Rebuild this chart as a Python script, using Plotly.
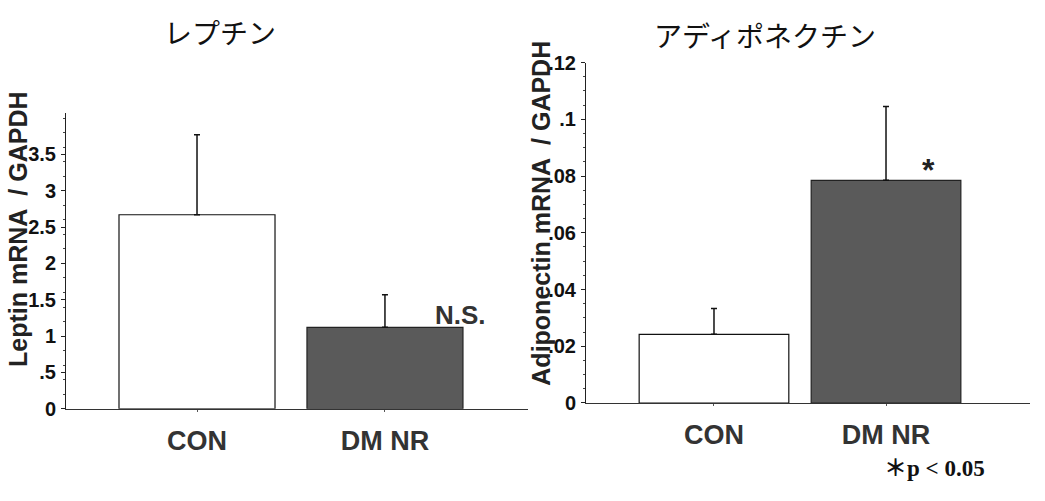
import plotly.graph_objects as go

# Group labels
groups = ["CON", "DM NR"]

# Leptin mRNA / GAPDH (mean and upper SD)
leptin_mean = [2.67, 1.12]
leptin_sd = [1.10, 0.45]

# Adiponectin mRNA / GAPDH (mean and upper SD)
adipo_mean = [0.0242, 0.0785]
adipo_sd = [0.0091, 0.0260]

# Tick labels
leptin_ticks = [0, 0.5, 1, 1.5, 2, 2.5, 3, 3.5]
leptin_ticktext = ["0", ".5", "1", "1.5", "2", "2.5", "3", "3.5"]
adipo_ticks = [0, 0.02, 0.04, 0.06, 0.08, 0.10, 0.12]
adipo_ticktext = ["0", ".02", ".04", ".06", ".08", ".1", ".12"]

W, H = 1045, 501
bar_colors = ["#ffffff", "#5a5a5a"]
line_colors = ["#111111", "#222222"]

fig = go.Figure()

fig.add_trace(go.Bar(
    x=groups, y=leptin_mean, xaxis="x", yaxis="y", width=0.83,
    marker=dict(color=bar_colors, line=dict(color=line_colors, width=1.2)),
    error_y=dict(type="data", array=leptin_sd, arrayminus=[0, 0], symmetric=False,
                 color="#111111", thickness=1.5, width=3),
    showlegend=False,
))
fig.add_trace(go.Bar(
    x=groups, y=adipo_mean, xaxis="x2", yaxis="y2", width=0.87,
    marker=dict(color=bar_colors, line=dict(color=line_colors, width=1.2)),
    error_y=dict(type="data", array=adipo_sd, arrayminus=[0, 0], symmetric=False,
                 color="#111111", thickness=1.5, width=3),
    showlegend=False,
))

tick_font = dict(family="Liberation Sans, Arial, sans-serif", size=20, color="#111111")
cat_font = dict(family="Liberation Sans, Arial, sans-serif", size=27, color="#333333")

common_x = dict(type="category", showline=True, linecolor="#333333", linewidth=1,
                ticks="outside", ticklen=2, tickcolor="#555555",
                tickfont=cat_font, showgrid=False, zeroline=False,
                ticklabelstandoff=6, fixedrange=True)
common_y = dict(showline=True, linecolor="#222222", linewidth=1,
                ticks="outside", ticklen=4, tickcolor="#222222",
                tickfont=tick_font, showgrid=False, zeroline=False,
                ticklabelstandoff=1,
                minor=dict(ticks="outside", ticklen=2, tickcolor="#444444"))

fig.update_layout(
    width=W, height=H,
    margin=dict(l=0, r=0, t=0, b=0),
    paper_bgcolor="white", plot_bgcolor="white",
    xaxis=dict(domain=[66 / W, 528 / W], range=[-0.697, 1.761], anchor="y",
               tickvals=groups, ticktext=["<b>%s</b>" % g for g in groups], **common_x),
    yaxis=dict(domain=[1 - 416 / H, 1 - 107 / H], range=[0, 4.066], anchor="x",
               tickvals=leptin_ticks, ticktext=["<b>%s</b>" % t for t in leptin_ticktext],
               **common_y),
    xaxis2=dict(domain=[586 / W, 1030 / W], range=[-0.744, 1.837], anchor="y2",
                tickvals=groups, ticktext=["<b>%s</b>" % g for g in groups], **common_x),
    yaxis2=dict(domain=[1 - 410 / H, 1 - 54 / H], range=[0, 0.12], anchor="x2",
                tickvals=adipo_ticks, ticktext=["<b>%s</b>" % t for t in adipo_ticktext],
                **common_y),
)

jp_font = dict(family="Noto Sans CJK JP", size=28, color="#111111")
title_font = dict(family="Liberation Sans, Arial, sans-serif", size=25, color="#222222")

annotations = [
    dict(text="レプチン", x=220 / W, y=1 - 22 / H, font=jp_font),
    dict(text="アディポネクチン", x=765 / W, y=1 - 25 / H, font=jp_font),
    dict(text="<b>Leptin mRNA  / GAPDH</b>", x=18 / W, y=1 - 229 / H,
         textangle=-90, font=title_font),
    dict(text="<b>Adiponectin mRNA  / GAPDH</b>", x=541 / W, y=1 - 212 / H,
         textangle=-90, font=title_font),
    dict(text="<b>N.S.</b>", x=460 / W, y=1 - 318 / H,
         font=dict(family="Liberation Sans, Arial, sans-serif", size=26, color="#333333")),
    dict(text="<b>*</b>", x=928 / W, y=1 - 166 / H,
         font=dict(family="Liberation Sans, Arial, sans-serif", size=32, color="#222222")),
    dict(text="<b>＊p &lt; 0.05</b>", x=934 / W, y=1 - 478 / H,
         font=dict(family="Liberation Serif, Noto Sans CJK JP, serif", size=23, color="#111111")),
]
for a in annotations:
    a.update(xref="paper", yref="paper", showarrow=False, xanchor="center", yanchor="middle")
fig.update_layout(annotations=annotations)

fig.write_html("out.html")
